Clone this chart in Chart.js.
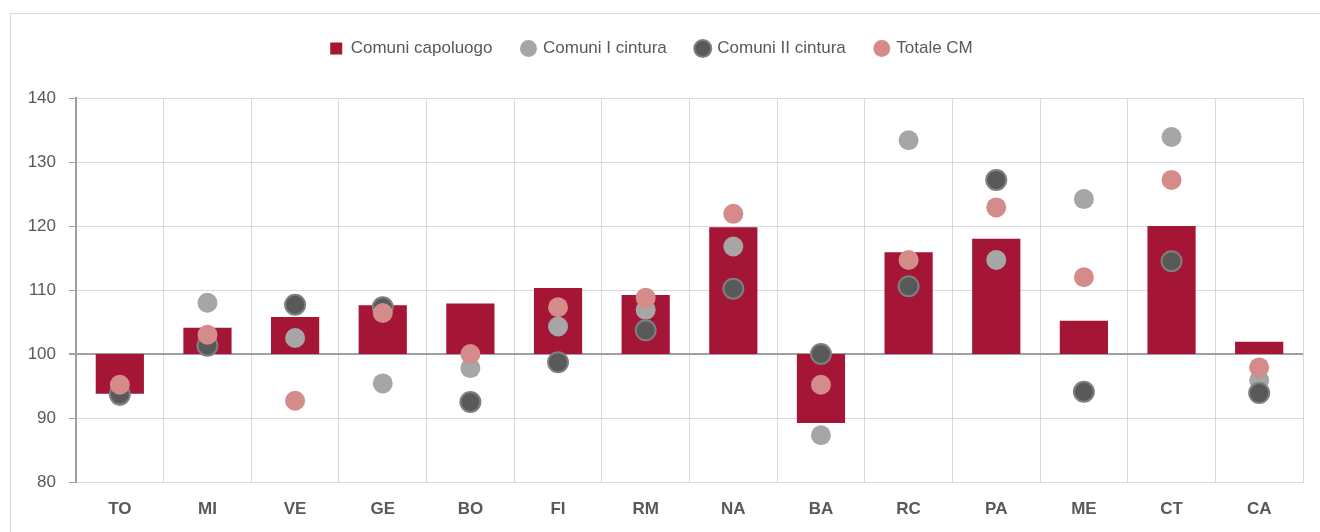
<!DOCTYPE html>
<html>
<head>
<meta charset="utf-8">
<script src="https://cdn.jsdelivr.net/npm/chart.js@4"></script>
<style>
  html, body { margin: 0; padding: 0; background: #fff; overflow: hidden; }
  #frame { position: absolute; left: 10px; top: 13px; width: 1400px; height: 600px;
           border-left: 1px solid #d9d9d9; border-top: 1px solid #d9d9d9; }
  #wrap { position: absolute; left: 0; top: 0; width: 1320px; height: 532px; }
</style>
</head>
<body>
<div id="frame"></div>
<div id="wrap"><canvas id="myChart"></canvas></div>
<script>
var cities = ['TO', 'MI', 'VE', 'GE', 'BO', 'FI', 'RM', 'NA', 'BA', 'RC', 'PA', 'ME', 'CT', 'CA'];
var capoluogo = [93.8, 104.1, 105.8, 107.6, 107.9, 110.3, 109.2, 119.8, 89.2, 115.9, 118.0, 105.2, 120.0, 101.9];
var primaCintura = [93.4, 108.0, 102.5, 95.4, 97.8, 104.3, 106.9, 116.8, 87.3, 133.4, 114.7, 124.2, 133.9, 95.9];
var secondaCintura = [93.7, 101.3, 107.7, 107.3, 92.5, 98.7, 103.7, 110.2, 100.0, 110.6, 127.2, 94.1, 114.5, 93.9];
var totaleCM = [95.2, 103.0, 92.7, 106.4, 100.0, 107.3, 108.8, 121.9, 95.2, 114.7, 122.9, 112.0, 127.2, 97.9];
var base = 100;

var font = '"Liberation Sans", Arial, sans-serif';

// extra room under the legend
var legendMargin = {
  id: 'legendMargin',
  beforeInit: function (chart) {
    var fit = chart.legend.fit;
    chart.legend.fit = function () {
      fit.bind(chart.legend)();
      this.height += 31;
    };
  }
};

function createChart() {
  var ctx = document.getElementById('myChart').getContext('2d');
  var myChart = new Chart(ctx, {
    type: 'bar',
    data: {
      labels: cities,
      datasets: [{
        label: 'Comuni capoluogo',
        data: capoluogo.map(function (v) { return [base, v]; }),
        backgroundColor: '#a51535',
        pointStyle: 'rect',
        barPercentage: 0.55,
        categoryPercentage: 1,
        order: 4
      }, {
        type: 'line',
        label: 'Comuni I cintura',
        data: primaCintura,
        showLine: false,
        pointRadius: 10,
        pointHoverRadius: 10,
        pointBackgroundColor: '#a6a6a6',
        pointBorderWidth: 0,
        backgroundColor: '#a6a6a6',
        borderColor: '#a6a6a6',
        order: 3
      }, {
        type: 'line',
        label: 'Comuni II cintura',
        data: secondaCintura,
        showLine: false,
        pointRadius: 10,
        pointHoverRadius: 10,
        pointBackgroundColor: '#595959',
        pointBorderColor: '#7f7f7f',
        pointBorderWidth: 2,
        backgroundColor: '#595959',
        borderColor: '#595959',
        order: 2
      }, {
        type: 'line',
        label: 'Totale CM',
        data: totaleCM,
        showLine: false,
        pointRadius: 10,
        pointHoverRadius: 10,
        pointBackgroundColor: '#d68b8b',
        pointBorderWidth: 0,
        backgroundColor: '#d68b8b',
        borderColor: '#d68b8b',
        order: 1
      }]
    },
    options: {
      responsive: true,
      maintainAspectRatio: false,
      animation: false,
      layout: { padding: { left: 0, right: 17, top: 10, bottom: 0 } },
      plugins: {
        tooltip: { enabled: false },
        legend: {
          position: 'top',
          labels: {
            usePointStyle: true,
            boxWidth: 12,
            boxHeight: 12,
            padding: 30,
            color: '#595959',
            font: { family: font, size: 17 },
            sort: function (a, b) { return a.datasetIndex - b.datasetIndex; }
          }
        }
      },
      scales: {
        x: {
          offset: true,
          grid: {
            offset: true,
            color: '#d9d9d9',
            drawTicks: false
          },
          border: { color: '#d9d9d9' },
          ticks: {
            padding: 17,
            color: '#595959',
            font: { family: font, size: 17, weight: 'bold' }
          },
          afterFit: function (scale) { scale.height = 50; }
        },
        y: {
          min: 80,
          max: 140,
          ticks: {
            stepSize: 10,
            padding: 13,
            color: '#595959',
            font: { family: font, size: 17 }
          },
          grid: {
            tickLength: 7,
            color: function (c) { return c.tick && c.tick.value === base ? '#a0a0a0' : '#d9d9d9'; },
            lineWidth: function (c) { return c.tick && c.tick.value === base ? 2 : 1; },
            tickColor: '#a0a0a0'
          },
          border: { color: '#a0a0a0', width: 2 },
          afterFit: function (scale) { scale.width = 76; }
        }
      }
    },
    plugins: [legendMargin]
  });
}

createChart();
</script>
</body>
</html>
